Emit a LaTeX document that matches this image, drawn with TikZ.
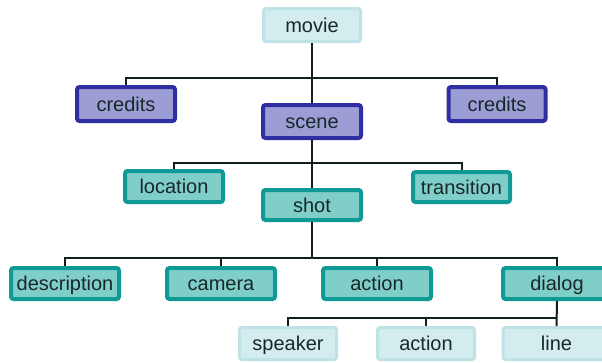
\documentclass[tikz,border=0pt]{standalone}
\usepackage{fontspec}
\setmainfont{Liberation Sans}
\definecolor{lightfill}{HTML}{D3EDEF}
\definecolor{lightdraw}{HTML}{BDE3E6}
\definecolor{bluefill}{HTML}{9D9DD6}
\definecolor{bluedraw}{HTML}{2F2FA3}
\definecolor{tealfill}{HTML}{80CECA}
\definecolor{tealdraw}{HTML}{109A96}
\definecolor{txt}{HTML}{182828}
\definecolor{conn}{HTML}{102020}
\begin{document}
\begin{tikzpicture}[x=1pt,y=-1pt,
  box/.style={rectangle,rounded corners=2.5pt,inner sep=0pt,text=txt,
    text height=17pt,text depth=3pt,
    font=\fontsize{20}{24}\selectfont},
  lightbox/.style={box,fill=lightfill,draw=lightdraw,line width=3pt},
  bluebox/.style={box,fill=bluefill,draw=bluedraw,line width=4pt},
  tealbox/.style={box,fill=tealfill,draw=tealdraw,line width=4pt},
  link/.style={draw=conn,line width=2pt}]
\useasboundingbox (0,0) rectangle (602,362);
\clip (0,0) rectangle (602,362);
% nodes
\node[lightbox,minimum width=97pt,minimum height=33pt] (movie) at (312,25) {movie};
\node[bluebox,minimum width=98pt,minimum height=34pt] (creditsL) at (126,104) {credits};
\node[bluebox,minimum width=98pt,minimum height=33pt] (scene) at (312,121.5) {scene};
\node[bluebox,minimum width=97pt,minimum height=34pt] (creditsR) at (497,104) {credits};
\node[tealbox,minimum width=98pt,minimum height=31pt] (location) at (174,186.5) {location};
\node[tealbox,minimum width=98pt,minimum height=30pt] (shot) at (312,205) {shot};
\node[tealbox,minimum width=97pt,minimum height=30pt] (transition) at (461.5,187) {transition};
\node[tealbox,minimum width=108pt,minimum height=31pt] (description) at (65,283.5) {description};
\node[tealbox,minimum width=108pt,minimum height=31pt] (camera) at (221,283.5) {camera};
\node[tealbox,minimum width=108pt,minimum height=31pt] (action) at (377,283.5) {action};
\node[tealbox,minimum width=108pt,minimum height=31pt] (dialog) at (557,283.5) {dialog};
\node[lightbox,minimum width=97pt,minimum height=32pt] (speaker) at (288,343.5) {speaker};
\node[lightbox,minimum width=97pt,minimum height=32pt] (action2) at (426,343.5) {action};
\node[lightbox,minimum width=107pt,minimum height=32pt] (line) at (556.5,343.5) {line};
% branch points
\coordinate (b1) at (312,78);
\coordinate (b2) at (312,163);
\coordinate (b3) at (312,258);
\coordinate (b4) at (557,318);
% connectors
\draw[link] (movie.south) -- (scene.north);
\draw[link] (creditsL.north) |- (b1) -| (creditsR.north);
\draw[link] (scene.south) -- (shot.north);
\draw[link] (location.north) |- (b2) -| (transition.north);
\draw[link] (shot.south) -- (b3);
\draw[link] (description.north) |- (b3) -| (dialog.north);
\draw[link] (camera.north) -- (camera.north |- b3);
\draw[link] (action.north) -- (action.north |- b3);
\draw[link] (dialog.south) -- (line.north);
\draw[link] (speaker.north) |- (b4);
\draw[link] (action2.north) -- (action2.north |- b4);
\end{tikzpicture}
\end{document}
